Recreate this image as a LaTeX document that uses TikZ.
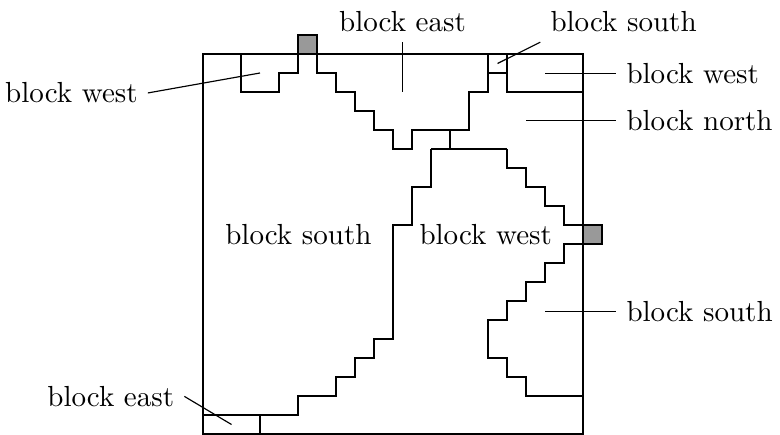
\documentclass[tikz,border=0pt]{standalone}
\begin{document}
\begin{tikzpicture}[x=0.23cm,y=0.23cm,
  wall/.style={line width=0.7pt, line join=miter},
  leader/.style={line width=0.4pt},
  ghost/.style={wall, fill=black!40},
  lbl/.style={inner sep=3.33pt}]
\useasboundingbox (-10.684,0) rectangle (30.368,22.842);

% outer boundary and the two protruding cells
\draw[wall] (0,0) rectangle (20,20);
\draw[ghost] (5,20) rectangle (6,21);
\draw[ghost] (20,10) rectangle (21,11);

% top-left pocket
\draw[wall] (2,20) -- (2,18) -- (4,18) -- (4,19) -- (5,19) -- (5,20);

% staircase under the top edge
\draw[wall] (6,20) -- (6,19) -- (7,19) -- (7,18) -- (8,18) -- (8,17) -- (9,17)
  -- (9,16) -- (10,16) -- (10,15) -- (11,15) -- (11,16) -- (14,16) -- (14,18)
  -- (15,18) -- (15,20);

% small cell and top-right strip
\draw[wall] (15,19) -- (16,19);
\draw[wall] (16,20) -- (16,18) -- (20,18);

% central divider
\draw[wall] (13,16) -- (13,15);
\draw[wall] (12,15) -- (16,15);

% left staircase down to the bottom strip
\draw[wall] (12,15) -- (12,13) -- (11,13) -- (11,11) -- (10,11) -- (10,5)
  -- (9,5) -- (9,4) -- (8,4) -- (8,3) -- (7,3) -- (7,2) -- (5,2) -- (5,1) -- (0,1);
\draw[wall] (3,1) -- (3,0);

% right staircase above the east cell
\draw[wall] (16,15) -- (16,14) -- (17,14) -- (17,13) -- (18,13) -- (18,12)
  -- (19,12) -- (19,11) -- (20,11);

% right staircase below the east cell
\draw[wall] (20,10) -- (19,10) -- (19,9) -- (18,9) -- (18,8) -- (17,8) -- (17,7)
  -- (16,7) -- (16,6) -- (15,6) -- (15,4) -- (16,4) -- (16,3) -- (17,3)
  -- (17,2) -- (20,2);

% reference points inside the regions
\coordinate (pTL) at (3,19);
\coordinate (pTE) at (10.5,18);
\coordinate (pTS) at (15.5,19.5);
\coordinate (pTW) at (18,18.97);
\coordinate (pTN) at (17,16.5);
\coordinate (pRS) at (18,6.45);
\coordinate (pBE) at (1.5,0.5);

% labels
\node[lbl, anchor=east]       (lTL) at (-2.9,17.95) {block west};
\node[lbl, anchor=south]      (lTE) at (10.5,20.62) {block east};
\node[lbl, anchor=south west] (lTS) at (17.75,20.62) {block south};
\node[lbl, anchor=west]       (lTW) at (21.75,18.97) {block west};
\node[lbl, anchor=west]       (lTN) at (21.75,16.5) {block north};
\node[lbl, anchor=west]       (lRS) at (21.75,6.45) {block south};
\node[lbl, anchor=east]       (lBE) at (-0.98,1.98) {block east};
\node[lbl]                    (lMS) at (5.02,10.47) {block south};
\node[lbl]                    (lMW) at (14.88,10.47) {block west};

% leader lines
\draw[leader] (pTL) -- (lTL.east);
\draw[leader] (pTE) -- (lTE.south);
\draw[leader] (pTS) -- (lTS.south west);
\draw[leader] (pTW) -- (lTW.west);
\draw[leader] (pTN) -- (lTN.west);
\draw[leader] (pRS) -- (lRS.west);
\draw[leader] (pBE) -- (lBE.east);
\end{tikzpicture}
\end{document}
